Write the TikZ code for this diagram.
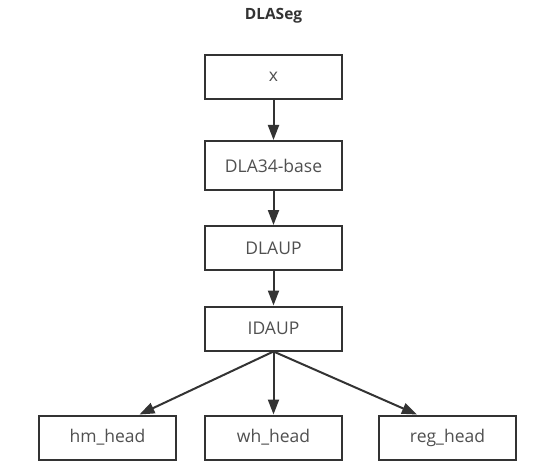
\documentclass[tikz,border=0pt]{standalone}
\usepackage{fontspec}
\setmainfont{Open Sans}
\usetikzlibrary{arrows.meta,calc}
\definecolor{boxline}{HTML}{333333}
\definecolor{boxtext}{HTML}{505050}
\begin{document}
\begin{tikzpicture}[x=1pt,y=-1pt]
        \useasboundingbox (0,0) rectangle (554,476);

        \node[font=\fontsize{15.5}{18}\selectfont\bfseries, text=boxline] (title) at (273.5,16) {DLASeg};

        \begin{scope}[every node/.style={rectangle, draw=boxline, line width=2pt, fill=white,
            minimum width=137pt, minimum height=44pt, inner sep=0pt,
            text=boxtext, font=\fontsize{17.5}{21}\selectfont}]
          \node (x)    at (273.5,77)    {x};
          \node[minimum height=49pt] (dla)  at (273.5,165.5) {DLA34-base};
          \node (dlaup) at (273.5,248)  {DLAUP};
          \node (idaup) at (273.5,328.5) {IDAUP};
          \node (hm)   at (107.5,437.5) {hm\_head};
          \node (wh)   at (273.5,437.5) {wh\_head};
          \node (reg)  at (447.5,437.5) {reg\_head};
        \end{scope}

        \coordinate (hmin)  at ($(hm.north west)!0.73!(hm.north east)$);
        \coordinate (regin) at ($(reg.north west)!0.28!(reg.north east)$);

        \begin{scope}[every edge/.style={draw=boxline, line width=2pt,
            -{Triangle[length=15pt,width=11pt]}}]
          \path (x)  edge (dla);
          \path (dla)  edge (dlaup);
          \path (dlaup)  edge (idaup);
          \path (idaup.south)  edge (hmin);
          \path (idaup.south)  edge (wh);
          \path (idaup.south)  edge (regin);
        \end{scope}

      \end{tikzpicture}
\end{document}
